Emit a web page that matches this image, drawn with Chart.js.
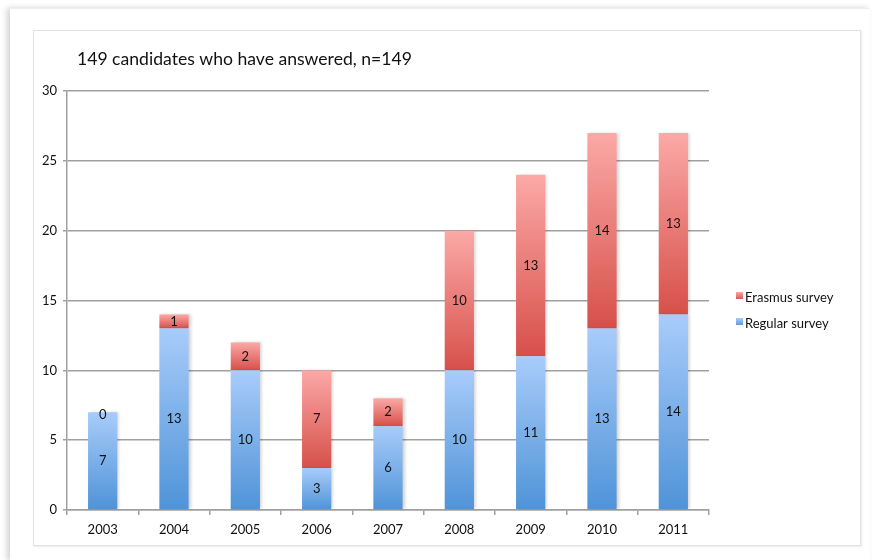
<!DOCTYPE html>
<html>
<head>
<meta charset="utf-8">
<script src="https://cdn.jsdelivr.net/npm/chart.js@4"></script>
<style>
  html, body { margin: 0; padding: 0; background: #fff; }
  #page { position: absolute; left: 10px; top: 8px; width: 860px; height: 552px;
          background: #fff; box-shadow: -3px 0 6px rgba(0,0,0,0.18); border-top: 1px solid #eee; }
  #frame { position: absolute; left: 33px; top: 30px; width: 826px; height: 514px;
           border: 1px solid #e2e2e2; box-shadow: 1px 1px 2px rgba(0,0,0,0.08); background: #fff; }
  #wrap { position: absolute; left: 0; top: 0; width: 872px; height: 560px; }
</style>
</head>
<body>
<div id="page"></div>
<div id="frame"></div>
<div id="wrap"><canvas id="surveyChart" width="872" height="560"></canvas></div>
<script>
const years = ['2003', '2004', '2005', '2006', '2007', '2008', '2009', '2010', '2011'];
const regularSurvey = [7, 13, 10, 3, 6, 10, 11, 13, 14];
const erasmusSurvey = [0, 1, 2, 7, 2, 10, 13, 14, 13];
const yTicks = [0, 5, 10, 15, 20, 25, 30];
const chartTitle = '149 candidates who have answered, n=149';

const FONT = 'Lato, "Open Sans", sans-serif';

// gradient per bar segment, dark at the bottom, light on top
function segmentGradient(context, bottomColor, topColor) {
  const chart = context.chart;
  const yScale = chart.scales.y;
  if (!yScale || context.type !== 'data') return bottomColor;
  let start = 0;
  for (let d = 0; d < context.datasetIndex; d++) {
    start += chart.data.datasets[d].data[context.dataIndex];
  }
  const end = start + context.raw;
  const yBottom = yScale.getPixelForValue(start);
  let yTop = yScale.getPixelForValue(end);
  if (!isFinite(yBottom) || !isFinite(yTop)) return bottomColor;
  if (Math.abs(yBottom - yTop) < 1) yTop = yBottom - 1;
  const g = chart.ctx.createLinearGradient(0, yBottom, 0, yTop);
  g.addColorStop(0, bottomColor);
  g.addColorStop(1, topColor);
  return g;
}

// shadow behind the bars
const barShadow = {
  id: 'barShadow',
  beforeDatasetsDraw(chart) {
    const ctx = chart.ctx;
    ctx.save();
    ctx.shadowColor = 'rgba(0,0,0,0.18)';
    ctx.shadowBlur = 3;
    ctx.shadowOffsetX = 2;
    ctx.shadowOffsetY = 0;
  },
  afterDatasetsDraw(chart) {
    chart.ctx.restore();
  }
};

// value labels in the middle of each segment
const segmentLabels = {
  id: 'segmentLabels',
  afterDatasetsDraw(chart) {
    const ctx = chart.ctx;
    ctx.save();
    ctx.font = '13px ' + FONT;
    ctx.fillStyle = '#111';
    ctx.textAlign = 'center';
    ctx.textBaseline = 'middle';
    chart.data.datasets.forEach((ds, i) => {
      const meta = chart.getDatasetMeta(i);
      meta.data.forEach((bar, j) => {
        let y = (bar.y + bar.base) / 2;
        if (ds.data[j] === 0) y += 3;
        ctx.fillText(String(ds.data[j]), bar.x, y);
      });
    });
    ctx.restore();
  }
};

// title and legend text
const titleAndLegend = {
  id: 'titleAndLegend',
  afterDraw(chart) {
    const ctx = chart.ctx;
    ctx.save();
    ctx.font = '17.6px ' + FONT;
    ctx.fillStyle = '#111';
    ctx.textBaseline = 'middle';
    ctx.textAlign = 'left';
    ctx.fillText(chartTitle, 77, 59);

    const items = [
      { text: chart.data.datasets[1].label, top: '#f9a5a3', bottom: '#dc5a55', y: 298 },
      { text: chart.data.datasets[0].label, top: '#a9cdf9', bottom: '#5a9be0', y: 324 }
    ];
    ctx.font = '13px ' + FONT;
    items.forEach(it => {
      const g = ctx.createLinearGradient(0, it.y - 6, 0, it.y + 1);
      g.addColorStop(0, it.top);
      g.addColorStop(1, it.bottom);
      ctx.fillStyle = g;
      ctx.fillRect(736, it.y - 6, 7, 7);
      ctx.fillStyle = '#111';
      ctx.fillText(it.text, 745, it.y);
    });
    ctx.restore();
  }
};

const ctx = document.getElementById('surveyChart').getContext('2d');
new Chart(ctx, {
  type: 'bar',
  data: {
    labels: years,
    datasets: [
      {
        label: 'Regular survey',
        data: regularSurvey,
        backgroundColor: c => segmentGradient(c, '#4f93d8', '#a8ccfa'),
        borderWidth: 0
      },
      {
        label: 'Erasmus survey',
        data: erasmusSurvey,
        backgroundColor: c => segmentGradient(c, '#d7504a', '#fba9a7'),
        borderWidth: 0
      }
    ]
  },
  options: {
    responsive: false,
    animation: false,
    events: [],
    layout: { padding: { left: 27, right: 163, top: 91, bottom: 10 } },
    categoryPercentage: 1,
    barPercentage: 0.41,
    plugins: {
      legend: { display: false },
      title: { display: false },
      tooltip: { enabled: false }
    },
    scales: {
      x: {
        stacked: true,
        afterFit: s => { s.height = 40; },
        border: { color: '#a0a0a0', width: 1.5 },
        grid: { offset: true, drawOnChartArea: false, drawTicks: true, tickLength: 5, color: '#a0a0a0', lineWidth: 1.5 },
        ticks: { color: '#111', font: { family: FONT, size: 13 }, padding: 7 }
      },
      y: {
        stacked: true,
        min: 0,
        max: 30,
        afterFit: s => { s.width = 40; },
        afterBuildTicks: s => { s.ticks = yTicks.map(v => ({ value: v })); },
        border: { color: '#a0a0a0', width: 1.5 },
        grid: { color: '#a0a0a0', lineWidth: 1.5, tickLength: 4 },
        ticks: { color: '#111', font: { family: FONT, size: 13 }, padding: 6 }
      }
    }
  },
  plugins: [barShadow, segmentLabels, titleAndLegend]
});
</script>
</body>
</html>
